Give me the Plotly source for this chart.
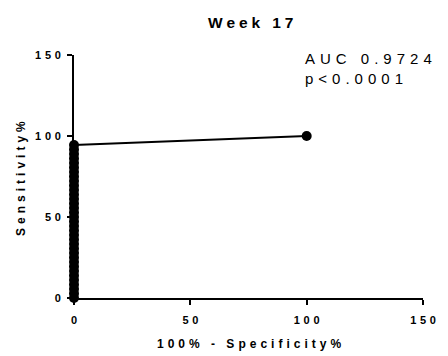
"""
ROC curve, week 17 (GraphPad-style)
"""

import plotly.graph_objects as go

# ROC points: 100% - specificity vs sensitivity
specificity_comp = [0] * 35 + [100]
sensitivity = [
    0, 2.78, 5.56, 8.33, 11.11, 13.89, 16.67, 19.44, 22.22, 25,
    27.78, 30.56, 33.33, 36.11, 38.89, 41.67, 44.44, 47.22, 50, 52.78,
    55.56, 58.33, 61.11, 63.89, 66.67, 69.44, 72.22, 75, 77.78, 80.56,
    83.33, 86.11, 88.89, 91.67, 94.44, 100,
]
tick_vals = [0, 50, 100, 150]
auc_text = "AUC 0.9724"
p_text = "p<0.0001"

FONT = "Liberation Sans, Arial, sans-serif"


def spaced(s, sep="\u2004"):
    # GraphPad exports have wide letter spacing
    return sep.join(list(s))


fig = go.Figure()

fig.add_trace(go.Scatter(
    x=specificity_comp,
    y=sensitivity,
    mode="lines+markers",
    line=dict(color="black", width=2),
    marker=dict(color="black", size=10),
    cliponaxis=False,
    hoverinfo="skip",
))

axis_common = dict(
    range=[0, 150],
    tickvals=tick_vals,
    ticktext=[spaced(str(v)) for v in tick_vals],
    ticks="outside",
    ticklen=5,
    tickwidth=2,
    tickcolor="black",
    showline=True,
    linecolor="black",
    linewidth=2,
    showgrid=False,
    zeroline=False,
    tickfont=dict(family=FONT, size=11, color="black", weight="bold"),
)

fig.update_layout(
    width=448,
    height=356,
    margin=dict(l=74, r=14, t=55, b=58),
    paper_bgcolor="white",
    plot_bgcolor="white",
    showlegend=False,
    xaxis=dict(**axis_common, ticklabelstandoff=6),
    yaxis=dict(**axis_common, ticklabelstandoff=4),
)

# title
fig.add_annotation(
    text=spaced("Week 17", "\u2005"),
    xref="paper", yref="paper", x=0.5, y=1,
    xanchor="center", yanchor="middle", yshift=33, xshift=2,
    showarrow=False,
    font=dict(family=FONT, size=15.5, color="black", weight="bold"),
)
# axis titles
fig.add_annotation(
    text=spaced("100% - Specificity%"),
    xref="paper", yref="paper", x=0.5, y=0,
    xanchor="center", yanchor="middle", yshift=-46,
    showarrow=False,
    font=dict(family=FONT, size=12, color="black", weight="bold"),
)
fig.add_annotation(
    text=spaced("Sensitivity%"),
    xref="paper", yref="paper", x=0, y=0.49,
    xanchor="center", yanchor="middle", xshift=-53,
    textangle=-90,
    showarrow=False,
    font=dict(family=FONT, size=12, color="black", weight="bold"),
)
# AUC / p-value (paper coords: out-of-range axis refs get hidden)
fig.add_annotation(
    text=spaced(auc_text) + "<br>" + spaced(p_text),
    xref="paper", yref="paper", x=0.655, y=1.029,
    xanchor="left", yanchor="top", align="left",
    showarrow=False,
    font=dict(family=FONT, size=15, color="black"),
)

# drop the default 8px body margin so the figure sits at the page corner
fig.write_html(
    "out.html",
    config={"displayModeBar": False},
    post_script="document.body.style.margin = '0';",
)
